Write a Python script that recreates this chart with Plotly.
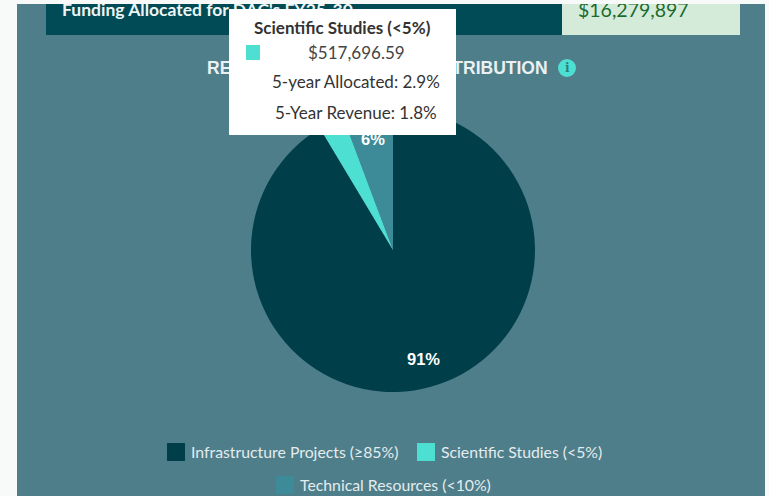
import math
import plotly.graph_objects as go

W, H = 769, 496
categories = ["Infrastructure Projects (≥85%)", "Scientific Studies (<5%)", "Technical Resources (<10%)"]
values = [16450000, 517696.59, 1030000]
colors = ["#003F49", "#4DE0D2", "#3D8A98"]
PAGE, PANEL, DARK, GREEN = "#F8FAFA", "#4E7E8A", "#004B56", "#D4EBDA"
header_label = "Funding Allocated for DAC's FY25-30"
header_value = "$16,279,897"
chart_title = "REVENUE AND FUNDING DISTRIBUTION"
tooltip_lines = ["$517,696.59", "5-year Allocated: 2.9%", "5-Year Revenue: 1.8%"]

CX, CY, R = 393, 250, 142
px = lambda x: x / W
py = lambda y: 1 - y / H


def rect(x0, y0, x1, y1, fill, **kw):
    return dict(type="rect", xref="paper", yref="paper", x0=px(x0), x1=px(x1), y0=py(y0), y1=py(y1),
                fillcolor=fill, line=dict(width=0), layer="below", **kw)


def note(x, y, text, size, color, family="Lato", bold=False, anchor="center", **kw):
    return dict(xref="paper", yref="paper", x=px(x), y=py(y), xanchor=anchor, yanchor="middle", showarrow=False,
                text=f"<b>{text}</b>" if bold else text, font=dict(family=family, size=size, color=color), **kw)


fig = go.Figure(go.Pie(
    labels=categories, values=values, sort=False, direction="clockwise", rotation=0,
    marker=dict(colors=colors, line=dict(width=0)), textinfo="none", showlegend=False,
    domain=dict(x=[px(CX - R), px(CX + R)], y=[py(CY + R), py(CY - R)]),
))

shapes = [
    rect(17, 0, 765, 496, PANEL),
    rect(46, 0, 562, 35, DARK),
    rect(562, 0, 740, 35, GREEN),
    dict(type="circle", xref="paper", yref="paper", x0=px(558), x1=px(576), y0=py(77), y1=py(59),
         fillcolor="#4DE0D2", line=dict(width=0), layer="below"),
]

annotations = [
    note(60, 9, header_label, 17.5, "#EEF5F5", bold=True, anchor="left"),
    note(633, 9, header_value, 19.5, "#1B6B2E"),
    note(377, 68, chart_title, 17.5, "#EAF1F2", family="Liberation Sans", bold=True),
    note(567, 68, "i", 12, "#2A7F80", family="DejaVu Serif", bold=True),
]

# slice percentage labels, placed from the data; slices under 5% carry no label
total = sum(values)
start = 0.0
for v in values:
    share = v / total
    mid = (start + share / 2) * 2 * math.pi
    start += share
    if share >= 0.05:
        annotations.append(note(CX + 113 * math.sin(mid), CY - 113 * math.cos(mid), f"{share * 100:.0f}%",
                                16.5, "#FFFFFF", family="Liberation Sans", bold=True))

# page strip along the top clips the header text
annotations.append(dict(xref="paper", yref="paper", x=0, y=1, xanchor="left", yanchor="top", showarrow=False, text=" ",
                        width=W, height=4, bgcolor=PAGE, borderpad=0, borderwidth=0))
# tooltip box covers title and label
annotations.append(dict(xref="paper", yref="paper", x=px(229), y=py(9), xanchor="left", yanchor="top", showarrow=False,
                        text=" ", width=227, height=126, bgcolor="#FFFFFF", borderpad=0, borderwidth=0))
annotations += [
    note(342, 27, categories[1], 17, "#333333", bold=True),
    note(356, 53, tooltip_lines[0], 17, "#444444"),
    note(356, 82, tooltip_lines[1], 17, "#333333"),
    note(356, 113, tooltip_lines[2], 17, "#333333"),
    dict(xref="paper", yref="paper", x=px(246), y=py(45), xanchor="left", yanchor="top", showarrow=False, text=" ",
         width=14, height=15, bgcolor=colors[1], borderpad=0, borderwidth=0),
]

# legend
legend_pos = [(167, 452), (417, 452), (276, 485)]
for (x, y), name, color in zip(legend_pos, categories, colors):
    shapes.append(rect(x, y - 9, x + 18, y + 9, color))
    annotations.append(note(x + 22, y - 1, name, 15.8, "#E4ECEE", anchor="left"))

fig.update_layout(width=W, height=H, margin=dict(l=0, r=0, t=0, b=0), paper_bgcolor=PAGE, plot_bgcolor=PAGE,
                  shapes=shapes, annotations=annotations)
fig.write_html("out.html", config={"displayModeBar": False}, post_script="document.body.style.margin='0';")
